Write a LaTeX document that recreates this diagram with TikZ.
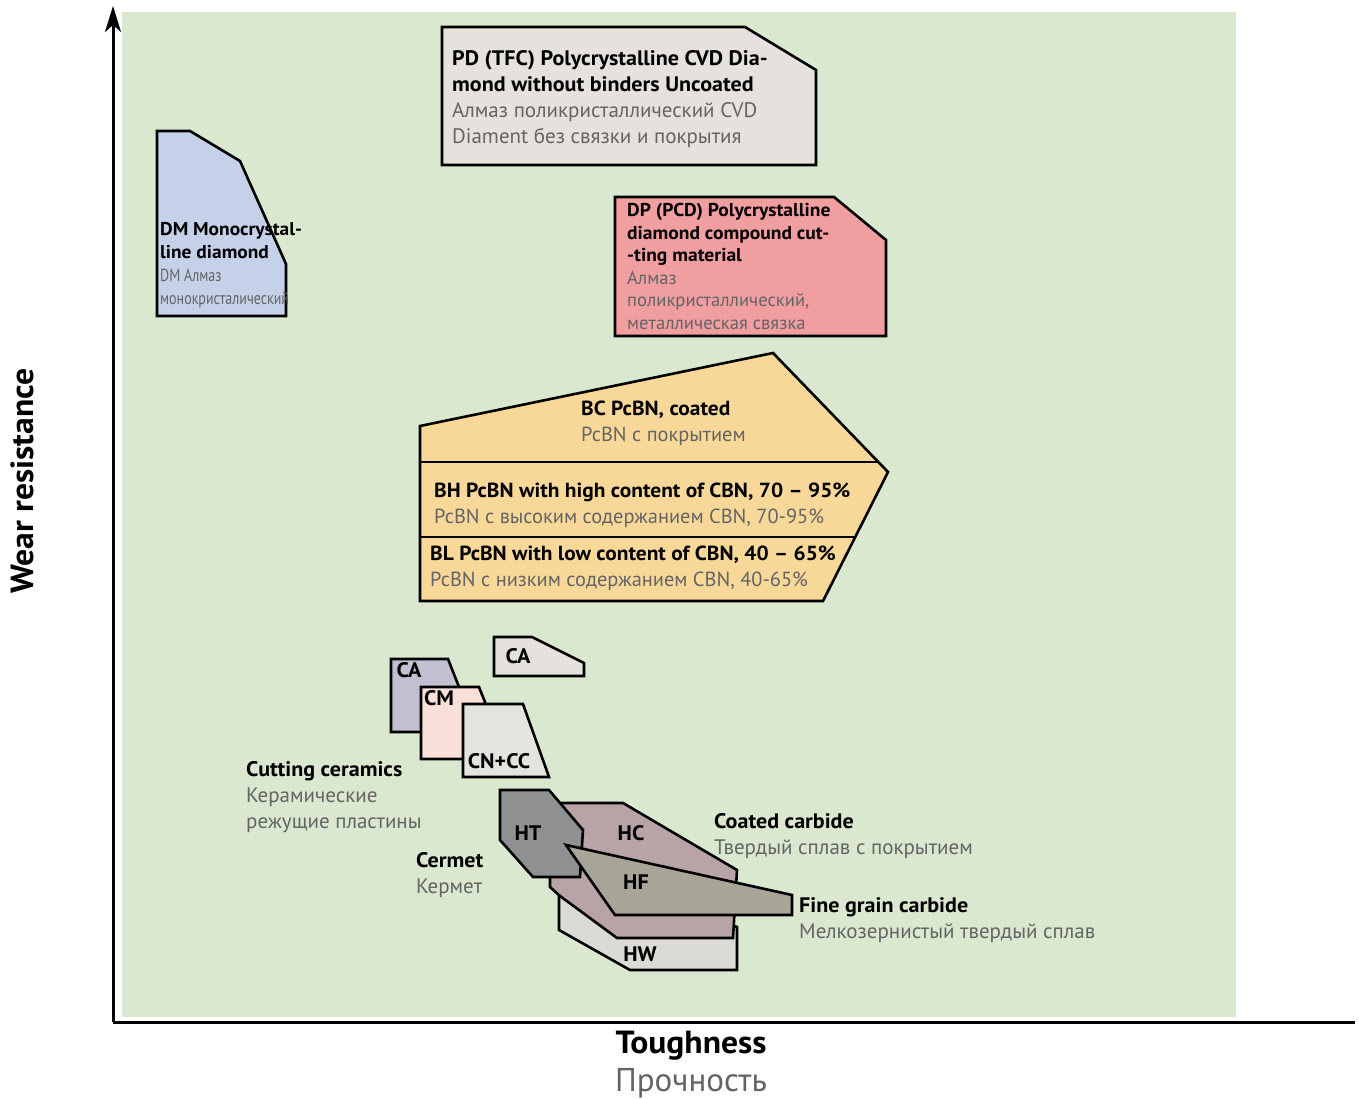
\documentclass[tikz,border=0pt]{standalone}
\usepackage{fontspec}
\setmainfont{PT Sans}[BoldFeatures={FakeStretch=1.05}]
\newfontfamily\narrowfont[FakeStretch=0.8]{PT Sans}
\usetikzlibrary{arrows.meta}
\definecolor{bg}{RGB}{217,232,207}
\definecolor{tg}{RGB}{100,100,100}
\definecolor{cPD}{RGB}{229,226,222}
\definecolor{cDM}{RGB}{197,209,232}
\definecolor{cDP}{RGB}{240,158,160}
\definecolor{cB}{RGB}{248,216,152}
\definecolor{cCA}{RGB}{192,192,208}
\definecolor{cCM}{RGB}{248,224,216}
\definecolor{cCN}{RGB}{228,228,222}
\definecolor{cHW}{RGB}{220,218,212}
\definecolor{cHC}{RGB}{184,164,166}
\definecolor{cHT}{RGB}{142,144,146}
\definecolor{cHF}{RGB}{167,165,151}
\tikzset{
  poly/.style={draw=black, line width=2.6pt, line join=miter},
  lbl/.style={anchor=north west, inner sep=0pt, align=left, font=\fontsize{21}{26}\selectfont},
  lblb/.style={anchor=north west, inner sep=0pt, align=left, font=\fontsize{20.4}{26}\selectfont},
  lbls/.style={anchor=north west, inner sep=0pt, align=left, font=\fontsize{18.6}{22.5}\selectfont},
  tag/.style={anchor=center, inner sep=0pt, font=\fontsize{21}{24}\selectfont\bfseries},
}
\begin{document}
\begin{tikzpicture}[x=1pt,y=-1pt]
\useasboundingbox (0,0) rectangle (1359,1099);
\fill[bg] (122,12) rectangle (1236,1017);
% axes
\coordinate (o) at (113,1022);
\coordinate (ytop) at (113,6);
\coordinate (xend) at (1355,1022);
\draw[line width=3pt, -{Stealth[length=26pt,width=16pt,inset=7pt]}] (o) -- (ytop);
\draw[line width=3pt] (o) -- (xend);
\node[rotate=90, font=\fontsize{32}{36}\selectfont\bfseries] (ylab) at (22,481) {Wear resistance};
\node[font=\fontsize{32}{36}\selectfont\bfseries] (xlab) at (691,1046) {Toughness};
\node[font=\fontsize{33}{36}\selectfont, text=tg] (xlab2) at (691,1083) {Прочность};

% PD
\draw[poly, fill=cPD] (442,27) -- (745,27) -- (816,70) -- (816,165) -- (442,165) -- cycle;
\node[lbl] (pd) at (452,50) {\textbf{PD (TFC) Polycrystalline CVD Dia-}\\\textbf{mond without binders Uncoated}\\\textcolor{tg}{Алмаз поликристаллический CVD}\\\textcolor{tg}{Diament без связки и покрытия}};

% DM
\draw[poly, fill=cDM] (157,131) -- (190,131) -- (240,161) -- (286,264) -- (286,316) -- (157,316) -- cycle;
\node[anchor=north west, inner sep=0pt, align=left, font=\fontsize{18.5}{23}\selectfont] (dm) at (160,222) {\textbf{DM Monocrystal-}\\\textbf{line diamond}\\{\narrowfont\fontsize{17.5}{22}\selectfont\textcolor{tg}{DM Алмаз}}\\{\narrowfont\fontsize{17.5}{22}\selectfont\textcolor{tg}{монокристалический}}};

% DP
\draw[poly, fill=cDP] (615,197) -- (834,197) -- (886,240) -- (886,336) -- (615,336) -- cycle;
\node[lbls] (dp) at (627,203.5) {\textbf{DP (PCD) Polycrystalline}\\\textbf{diamond compound cut-}\\\textbf{-ting material}\\\textcolor{tg}{Алмаз}\\\textcolor{tg}{поликристаллический,}\\\textcolor{tg}{металлическая связка}};

% PcBN
\draw[poly, fill=cB] (420,426) -- (773,353) -- (888,472) -- (823,601) -- (420,601) -- cycle;
\coordinate (d1a) at (420,462); \coordinate (d1b) at (878,462);
\coordinate (d2a) at (420,537); \coordinate (d2b) at (855,537);
\draw[line width=2.2pt] (d1a) -- (d1b);
\draw[line width=2.2pt] (d2a) -- (d2b);
\node[lblb] (bc) at (581,400.5) {\textbf{BC PcBN, coated}\\\textcolor{tg}{PcBN с покрытием}};
\node[lblb] (bh) at (434,482.5) {\textbf{BH PcBN with high content of CBN, 70 – 95\%}\\\textcolor{tg}{PcBN с высоким содержанием CBN, 70-95\%}};
\node[lblb] (bl) at (430,545.5) {\textbf{BL PcBN with low content of CBN, 40 – 65\%}\\\textcolor{tg}{PcBN с низким содержанием CBN, 40-65\%}};

% ceramics
\draw[poly, fill=cPD] (494,637) -- (532,637) -- (584,663) -- (584,676) -- (494,676) -- cycle;
\node[tag] (ca2) at (518,656) {CA};
\draw[poly, fill=cCA] (391,659) -- (448,659) -- (472,720) -- (472,732) -- (391,732) -- cycle;
\node[tag] (ca1) at (409,670) {CA};
\draw[poly, fill=cCM] (421,687) -- (479,687) -- (500,740) -- (500,759) -- (421,759) -- cycle;
\node[tag] (cm) at (439,698) {CM};
\draw[poly, fill=cCN] (463,704) -- (523,704) -- (549,777) -- (463,777) -- cycle;
\node[tag] (cn) at (499,761) {CN+CC};

\node[lbl] (cer) at (246,761) {\textbf{Cutting ceramics}\\\textcolor{tg}{Керамические}\\\textcolor{tg}{режущие пластины}};
\node[lbl] (cmt) at (416,852) {\textbf{Cermet}\\\textcolor{tg}{Кермет}};
\node[lbl] (coat) at (714,813) {\textbf{Coated carbide}\\\textcolor{tg}{Твердый сплав с покрытием}};
\node[lbl] (fine) at (799,897) {\textbf{Fine grain carbide}\\\textcolor{tg}{Мелкозернистый твердый сплав}};

% carbides
\draw[poly, fill=cHW] (559,893) -- (700,893) -- (732,925) -- (737,927) -- (737,970) -- (630,970) -- (559,930) -- cycle;
\draw[poly, fill=cHC] (562,803) -- (623,803) -- (737,870) -- (733,938) -- (617,938) -- (560,896) -- (550,887) -- (550,850) -- cycle;
\draw[poly, fill=cHT] (500,790) -- (549,790) -- (583,830) -- (580,877) -- (533,877) -- (500,840) -- cycle;
\draw[poly, fill=cHF] (566,845) -- (792,895) -- (792,915) -- (615,915) -- cycle;
\node[tag] (ht) at (528,833) {HT};
\node[tag] (hc) at (631,833) {HC};
\node[tag] (hf) at (636,882) {HF};
\node[tag] (hw) at (640,954) {HW};
\end{tikzpicture}
\end{document}
